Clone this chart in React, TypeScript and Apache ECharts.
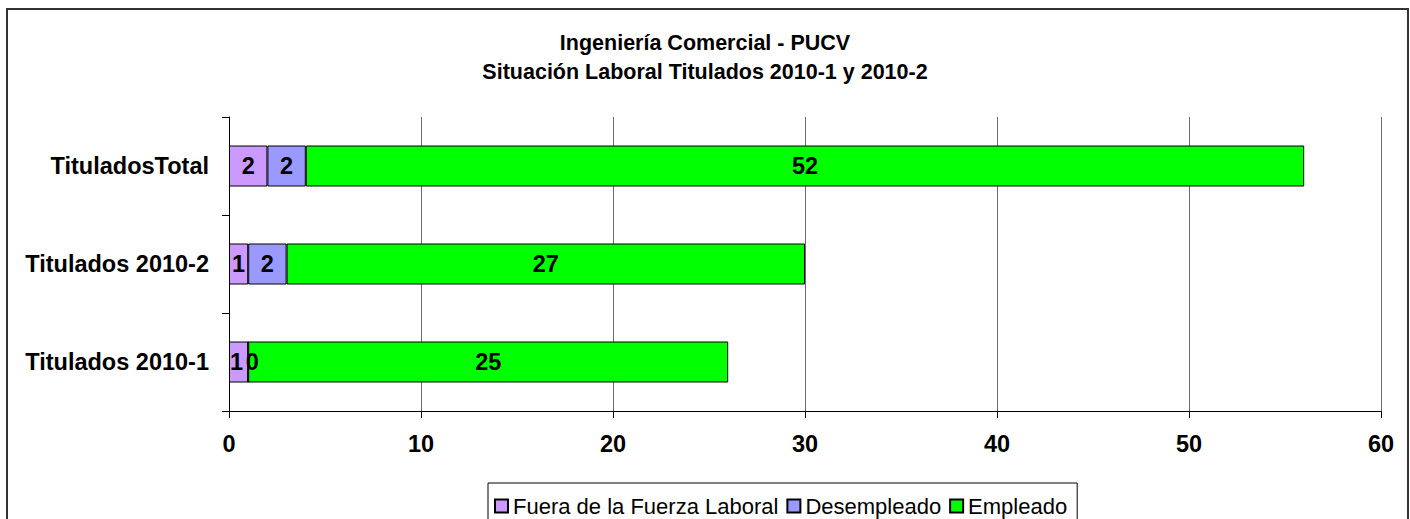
import React, { useEffect, useRef } from "react";
import * as echarts from "echarts";

const categories = ["Titulados 2010-1", "Titulados 2010-2", "TituladosTotal"];
const fueraValues = [1, 1, 2];
const desempleadoValues = [0, 2, 2];
const empleadoValues = [25, 27, 52];
const seriesNames = ["Fuera de la Fuerza Laboral", "Desempleado", "Empleado"];
const seriesColors = ["#CC99FF", "#9999FF", "#00FF00"];
const titleText = "Ingeniería Comercial - PUCV\nSituación Laboral Titulados 2010-1 y 2010-2";

const FONT = "'Liberation Sans', Arial, sans-serif";

export default function App() {
  const ref = useRef<HTMLDivElement>(null);
  useEffect(() => {
    if (!ref.current) return;
    const chart = echarts.init(ref.current, null, { renderer: "svg" });
    const dataSets = [fueraValues, desempleadoValues, empleadoValues];
    // Nudge labels of the first category apart where a zero-width segment sits next to a small one
    const offsetFor = (i: number, j: number): [number, number] => {
      if (j === 0 && i === 0 && desempleadoValues[0] === 0) return [-2, 0];
      if (j === 0 && i === 1 && desempleadoValues[0] === 0) return [4, 0];
      return [0, 0];
    };
    chart.setOption({
      animation: false,
      backgroundColor: "#ffffff",
      textStyle: { fontFamily: FONT },
      title: {
        text: titleText,
        left: "center",
        top: 23,
        textStyle: {
          fontFamily: FONT,
          fontSize: 21.5,
          fontWeight: "bold",
          color: "#000",
          lineHeight: 29,
        },
      },
      legend: {
        left: 488,
        top: 483,
        padding: [12, 10, 12, 6],
        borderColor: "#000",
        borderWidth: 1,
        itemWidth: 13,
        itemHeight: 13,
        itemGap: 8,
        icon: "rect",
        textStyle: { fontFamily: FONT, fontSize: 22, color: "#000" },
        data: seriesNames,
      },
      graphic: [
        {
          type: "rect",
          shape: { x: 7, y: 9, width: 1401, height: 530 },
          style: { fill: "none", stroke: "#333", lineWidth: 2 },
          silent: true,
        },
      ],
      grid: { left: 229, right: 29, top: 117, bottom: 108, containLabel: false },
      xAxis: {
        type: "value",
        min: 0,
        max: 60,
        interval: 10,
        axisLine: { show: true, lineStyle: { color: "#000", width: 1 } },
        axisTick: { show: true, length: 7, lineStyle: { color: "#000" } },
        splitLine: { show: true, lineStyle: { color: "#6e6e6e", width: 1 } },
        axisLabel: {
          margin: 21,
          fontFamily: FONT,
          fontSize: 23.5,
          fontWeight: "bold",
          color: "#000",
        },
      },
      yAxis: {
        type: "category",
        data: categories,
        axisLine: { show: true, lineStyle: { color: "#000", width: 1 } },
        axisTick: { show: true, length: 7, lineStyle: { color: "#000" } },
        splitLine: { show: false },
        axisLabel: {
          margin: 20,
          fontFamily: FONT,
          fontSize: 23.5,
          fontWeight: "bold",
          color: "#000",
        },
      },
      series: seriesNames.map((name, i) => ({
        name,
        type: "bar",
        stack: "total",
        barWidth: 41,
        data: dataSets[i].map((v, j) => ({
          value: v,
          label: { offset: offsetFor(i, j) },
        })),
        itemStyle: { color: seriesColors[i], borderColor: "#000", borderWidth: 1 },
        label: {
          show: true,
          position: "inside",
          fontFamily: FONT,
          fontSize: 23.5,
          fontWeight: "bold",
          color: "#000",
        },
      })),
    });
    return () => chart.dispose();
  }, []);
  return (
    <div
      ref={ref}
      style={{ position: "fixed", left: 0, top: 0, width: 1410, height: 519 }}
    />
  );
}
